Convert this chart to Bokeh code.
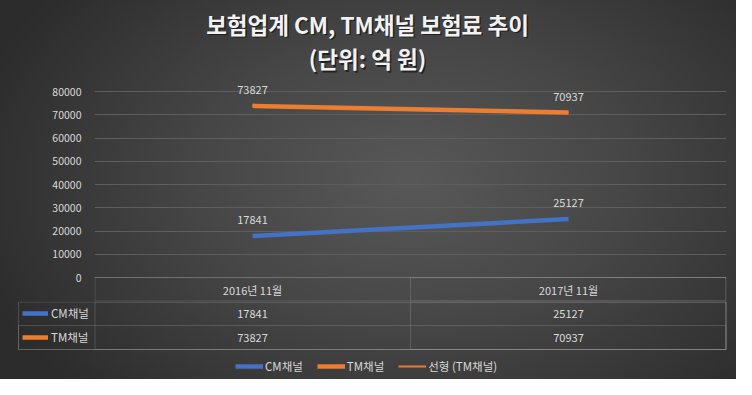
import numpy as np
from bokeh.plotting import figure
from bokeh.layouts import column
from bokeh.models import (Range1d, FixedTicker, Label, LabelSet, ColumnDataSource,
                          Legend, LegendItem, BoxAnnotation, NumeralTickFormatter)
from bokeh.core.properties import value
from bokeh.embed import file_html
from bokeh.resources import INLINE

# ---- data ----
categories = ["2016년 11월", "2017년 11월"]
cm_values = [17841, 25127]
tm_values = [73827, 70937]
cm_name = "CM채널"
tm_name = "TM채널"
trend_name = "선형 (TM채널)"
y_ticks = [0, 10000, 20000, 30000, 40000, 50000, 60000, 70000, 80000]
title_text = "보험업계 CM, TM채널 보험료 추이"
subtitle_text = "(단위: 억 원)"

# linear trendline of TM series (least squares over category index)
idx = np.arange(len(categories))
slope, intercept = np.polyfit(idx, tm_values, 1)
tm_trend = list(slope * idx + intercept)

FONT = "Noto Sans CJK KR"
TXT = "#d9d9d9"
BLUE = "#4472c4"
ORANGE = "#ed7d31"
BORDER = "#9a9a9a"
GRID = "#5e5e5e"

# ---- layout constants (canvas pixels) ----
W, H = 736, 379
FL, FR = 94, 726   # plot frame left/right
Y80, Y0 = 91, 277  # pixel rows of the 80000 and 0 gridlines
ROW = 24           # table row height
HA = Y0 + ROW      # top figure: title + plot + table header row
HB = H - HA        # bottom figure: table body + legend
n = len(categories)
cw = (FR - FL) / n
k = (y_ticks[-1] - y_ticks[0]) / (Y0 - Y80)   # data units per pixel

# ================= top figure =================
pA = figure(width=W, height=HA, x_range=categories,
            y_range=Range1d(-ROW * k, y_ticks[-1] + Y80 * k),
            output_backend="svg", toolbar_location=None, title=None,
            x_axis_location=None,
            min_border_left=FL, min_border_right=W - FR, min_border_top=0, min_border_bottom=0)
pA.frame_align = False
pA.background_fill_alpha = 0
pA.border_fill_alpha = 0
pA.outline_line_color = None

pA.yaxis.ticker = FixedTicker(ticks=y_ticks)
pA.yaxis.formatter = NumeralTickFormatter(format="0")
pA.yaxis.axis_line_color = None
pA.yaxis.major_tick_line_color = None
pA.yaxis.major_tick_out = 0
pA.yaxis.major_tick_in = 0
pA.yaxis.minor_tick_line_color = None
pA.yaxis.major_label_standoff = 13
pA.yaxis.major_label_text_font = FONT
pA.yaxis.major_label_text_font_size = "10.5px"
pA.yaxis.major_label_text_color = TXT

pA.xgrid.grid_line_color = None
pA.ygrid.grid_line_color = GRID
pA.ygrid.ticker = FixedTicker(ticks=y_ticks)

# lines
r_trend = pA.line(categories, tm_trend, line_color=ORANGE, line_width=2)
r_cm = pA.line(categories, cm_values, line_color=BLUE, line_width=4.5)
r_tm = pA.line(categories, tm_values, line_color=ORANGE, line_width=4.5)

# data labels above points
lab_src = ColumnDataSource(dict(
    x=categories + categories,
    y=cm_values + tm_values,
    t=[str(v) for v in cm_values + tm_values]))
pA.add_layout(LabelSet(x="x", y="y", text="t", source=lab_src, y_offset=16,
                       text_align="center", text_baseline="middle",
                       text_font=value(FONT), text_font_size="11px", text_color=TXT))

# title + subtitle (with soft shadow)
for dx, dy, col, alpha in [(1.5, 1.5, "#000000", 0.55), (0, 0, "#f2f2f2", 1.0)]:
    for txt, yy in [(title_text, 23), (subtitle_text, 57.5)]:
        pA.add_layout(Label(x=367 + dx, y=yy + dy, x_units="canvas", y_units="canvas",
                            text=txt, text_align="center", text_baseline="middle",
                            text_font=FONT, text_font_size="22.5px", text_font_style="bold",
                            text_color=col, text_alpha=alpha))

# table header row (category names) inside the top figure
hb = -(ROW - 0.5) * k
xr = n - 0.5 / cw
for left in [0.5 / cw, 1.0]:
    pA.add_layout(BoxAnnotation(left=left, right=xr, top=0, bottom=hb,
                                fill_alpha=0, line_color=BORDER, line_width=1))
hdr_src = ColumnDataSource(dict(x=categories))
pA.add_layout(LabelSet(x="x", y=-ROW * k / 2, text="x", source=hdr_src,
                       text_align="center", text_baseline="middle",
                       text_font=value(FONT), text_font_size="11px", text_color=TXT))

# ================= bottom figure =================
pB = figure(width=W, height=HB, x_range=Range1d(-FL / cw, (W - FL) / cw),
            y_range=Range1d(HB, 0),
            output_backend="svg", toolbar_location=None, title=None,
            x_axis_location=None, y_axis_location=None,
            min_border_left=0, min_border_right=0, min_border_top=0, min_border_bottom=0)
pB.frame_align = False
pB.background_fill_alpha = 0
pB.border_fill_alpha = 0
pB.outline_line_color = None
pB.xgrid.grid_line_color = None
pB.ygrid.grid_line_color = None

TL = (18 - FL) / cw   # table left edge (row-name column)
for l, t in [(TL, 0.5), (0.5 / cw, 0.5), (1.0, 0.5), (TL, ROW)]:
    pB.add_layout(BoxAnnotation(left=l, right=xr, top=t, bottom=2 * ROW,
                                fill_alpha=0, line_color=BORDER, line_width=1))

for vals, ypos in [(cm_values, ROW / 2), (tm_values, ROW * 1.5)]:
    src = ColumnDataSource(dict(x=list(idx + 0.5), t=[str(v) for v in vals]))
    pB.add_layout(LabelSet(x="x", y=ypos, text="t", source=src,
                           text_align="center", text_baseline="middle",
                           text_font=value(FONT), text_font_size="11px", text_color=TXT))

# legend key renderers: the same series, drawn on this (table) panel's scale,
# which puts them out of view; only their legend keys are seen here
k_cm = pB.line(list(idx + 0.5), cm_values, line_color=BLUE, line_width=4.5)
k_tm = pB.line(list(idx + 0.5), tm_values, line_color=ORANGE, line_width=4.5)
k_tr = pB.line(list(idx + 0.5), tm_trend, line_color=ORANGE, line_width=2)

tbl_leg = Legend(items=[LegendItem(label=cm_name, renderers=[k_cm]),
                        LegendItem(label=tm_name, renderers=[k_tm])],
                 location=(22, HB - 2 * ROW), orientation="vertical",
                 glyph_width=26, glyph_height=ROW, label_height=ROW, spacing=0,
                 label_standoff=3, padding=0, margin=0,
                 label_text_font=FONT, label_text_font_size="11.5px", label_text_color=TXT,
                 background_fill_alpha=0, border_line_alpha=0)
pB.add_layout(tbl_leg)

leg = Legend(items=[LegendItem(label=cm_name, renderers=[k_cm]),
                    LegendItem(label=tm_name, renderers=[k_tm]),
                    LegendItem(label=trend_name, renderers=[k_tr])],
             location=(235, 5), orientation="horizontal",
             glyph_width=28, glyph_height=14, label_height=14, spacing=14,
             label_standoff=2, padding=0, margin=0,
             label_text_font=FONT, label_text_font_size="11.5px", label_text_color=TXT,
             background_fill_alpha=0, border_line_alpha=0)
pB.add_layout(leg)

layout = column(pA, pB, spacing=0, width=W, height=H,
                styles={"background": "radial-gradient(ellipse 62% 80% at 56% 48%, #585858 0%, #474747 45%, #2c2c2c 100%)"})

open("out.html", "w").write(file_html(layout, INLINE))
